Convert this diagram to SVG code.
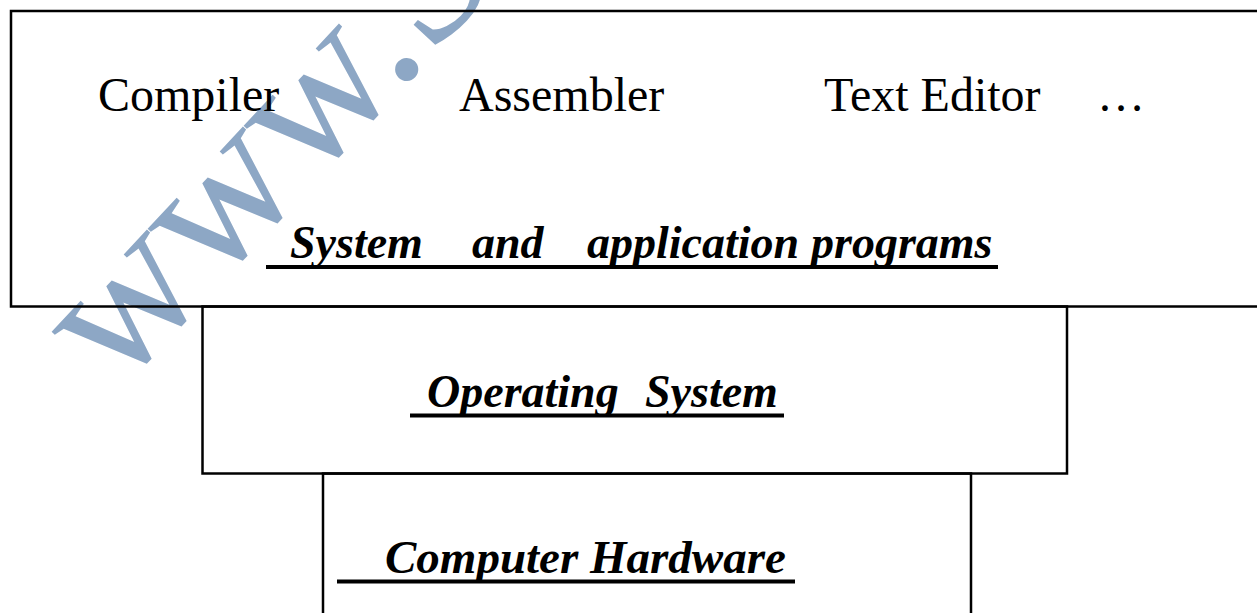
<svg xmlns="http://www.w3.org/2000/svg" width="1257" height="613" viewBox="0 0 1257 613">
  <style>
    .box { fill: none; stroke: #000; stroke-width: 2.5; }
    .ul { stroke: #000; stroke-width: 4; }
    .reg { font-family: "Liberation Serif", "Times New Roman", serif; font-size: 48px; fill: #000; }
    .bi { font-family: "Liberation Serif", "Times New Roman", serif; font-size: 46px; font-weight: bold; font-style: italic; fill: #000; }
    .wm { font-family: "Liberation Serif", "Times New Roman", serif; font-size: 195px; fill: #8DA7C5; }
  </style>
  <rect x="0" y="0" width="1257" height="613" fill="#fff"/>
  <g id="watermark">
    <text class="wm" transform="translate(117,393) rotate(-47)" x="0" y="0">www.S</text>
  </g>
  <g id="apps">
    <rect class="box" x="11" y="11" width="1260" height="295.5"/>
    <text class="reg" x="98" y="111">Compiler</text>
    <text class="reg" x="459" y="111">Assembler</text>
    <text class="reg" x="824" y="111">Text Editor</text>
    <text class="reg" x="1097" y="111">…</text>
    <text class="bi" y="258"><tspan x="290">System</tspan><tspan x="472">and</tspan><tspan x="587">application</tspan><tspan x="811">programs</tspan></text>
    <line class="ul" x1="266" y1="267" x2="998" y2="267"/>
  </g>
  <g id="os">
    <rect class="box" x="202.5" y="306.5" width="864.5" height="167"/>
    <text class="bi" y="407"><tspan x="427">Operating</tspan><tspan x="645">System</tspan></text>
    <line class="ul" x1="410" y1="415.5" x2="784" y2="415.5"/>
  </g>
  <g id="hardware">
    <rect class="box" x="323" y="473.5" width="648" height="160"/>
    <text class="bi" y="573" style="font-size:47px"><tspan x="385">Computer</tspan><tspan x="590">Hardware</tspan></text>
    <line class="ul" x1="337" y1="581.5" x2="795" y2="581.5"/>
  </g>
  <g id="connectors"></g>
</svg>
